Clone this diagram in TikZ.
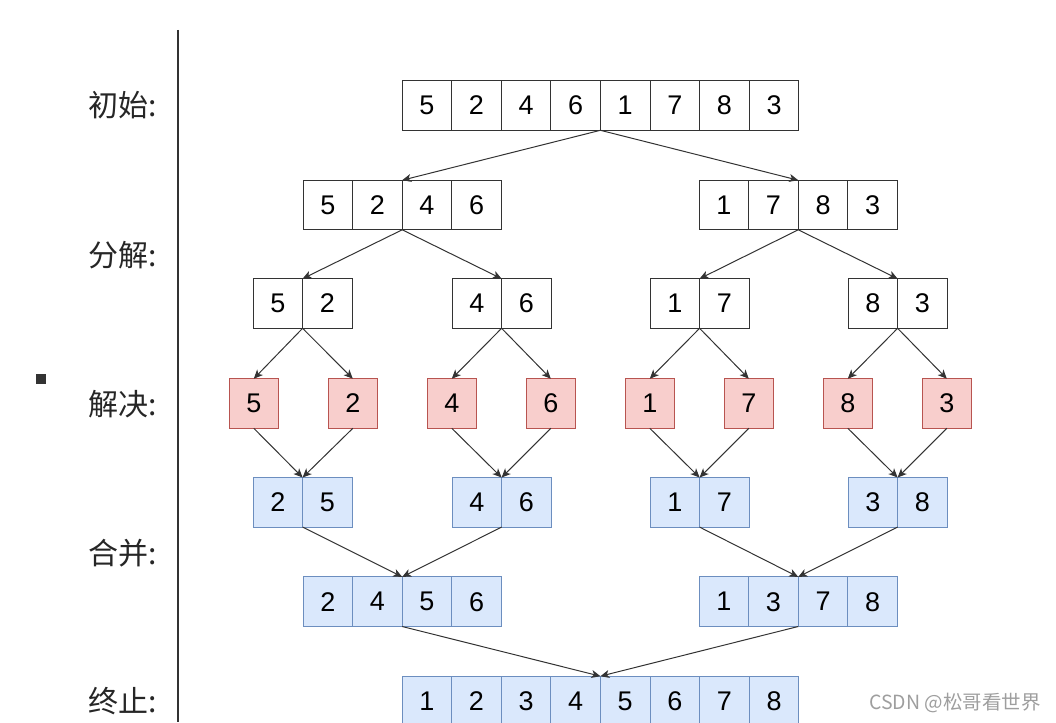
\documentclass[tikz,border=0pt]{standalone}
\usepackage{fontspec}
\setmainfont{Liberation Sans}
\newfontfamily\cjk{Noto Sans CJK SC}
\usetikzlibrary{arrows.meta}
\definecolor{lineC}{HTML}{333333}
\definecolor{redF}{HTML}{F8CECC}
\definecolor{redS}{HTML}{B85450}
\definecolor{blueF}{HTML}{DAE8FC}
\definecolor{blueS}{HTML}{6C8EBF}
\tikzset{
  cell/.style={draw=lineC, line width=1pt, minimum width=49.6pt, minimum height=49.6pt,
    inner sep=0pt, outer sep=0pt, font=\fontsize{27}{30}\selectfont, text=black},
  redcell/.style={cell, draw=redS, fill=redF},
  bluecell/.style={cell, draw=blueS, fill=blueF},
  arr/.style={draw=lineC, line width=1pt, -{Stealth[length=9pt,width=8pt,inset=2.5pt]}},
  lbl/.style={anchor=east, inner sep=0pt, font=\cjk\fontsize{30}{32}\selectfont, text=black!85},
}
\begin{document}
\begin{tikzpicture}[x=1pt,y=-1pt]
\useasboundingbox (0,0) rectangle (1056,722);
\clip (0,0) rectangle (1056,722);
% left axis line
\coordinate (axtop) at (178,30);
\coordinate (axbot) at (178,722);
\draw[line width=1.2pt, draw=lineC] (axtop) -- (axbot);
% small square
\node[fill=black!80, minimum size=10pt, inner sep=0pt] (sq) at (40.5,378.5) {};
% row labels
\node[lbl] (L1) at (157,105) {初始:};
\node[lbl] (L2) at (157,255) {分解:};
\node[lbl] (L3) at (157,404) {解决:};
\node[lbl] (L4) at (157,553) {合并:};
\node[lbl] (L5) at (157,701) {终止:};
% row 1
\foreach \v [count=\i] in {5,2,4,6,1,7,8,3}
  \node[cell] (a\i) at ({402+24.8+49.6*(\i-1)},105.5) {\v};
% row 2
\foreach \v [count=\i] in {5,2,4,6}
  \node[cell] (b\i) at ({303+24.8+49.6*(\i-1)},205) {\v};
\foreach \v [count=\i from 5] in {1,7,8,3}
  \node[cell] (b\i) at ({699+24.8+49.6*(\i-5)},205) {\v};
% row 3
\foreach \s/\u/\w [count=\k] in {253/5/2,452/4/6,650/1/7,848/8/3}{
  \pgfmathtruncatemacro{\ia}{2*\k-1}
  \pgfmathtruncatemacro{\ib}{2*\k}
  \node[cell] (c\ia) at ({\s+24.8},303.5) {\u};
  \node[cell] (c\ib) at ({\s+24.8+49.6},303.5) {\w};
}
% row 4 red
\foreach \s/\v [count=\i] in {229/5,328/2,427/4,526/6,625/1,724/7,823/8,922/3}
  \node[redcell] (d\i) at ({\s+24.8},403.5) {\v};
% row 5 blue
\foreach \s/\u/\w [count=\k] in {253/2/5,452/4/6,650/1/7,848/3/8}{
  \pgfmathtruncatemacro{\ia}{2*\k-1}
  \pgfmathtruncatemacro{\ib}{2*\k}
  \node[bluecell] (e\ia) at ({\s+24.8},502.3) {\u};
  \node[bluecell] (e\ib) at ({\s+24.8+49.6},502.3) {\w};
}
% row 6
\foreach \v [count=\i] in {2,4,5,6}
  \node[bluecell] (f\i) at ({303+24.8+49.6*(\i-1)},601.7) {\v};
\foreach \v [count=\i from 5] in {1,3,7,8}
  \node[bluecell] (f\i) at ({699+24.8+49.6*(\i-5)},601.7) {\v};
% row 7
\foreach \v [count=\i] in {1,2,3,4,5,6,7,8}
  \node[bluecell] (g\i) at ({402+24.8+49.6*(\i-1)},701) {\v};
% arrows: split
\draw[arr] (a4.south east) -- (b2.north east);
\draw[arr] (a4.south east) -- (b6.north east);
\draw[arr] (b2.south east) -- (c1.north east);
\draw[arr] (b2.south east) -- (c3.north east);
\draw[arr] (b6.south east) -- (c5.north east);
\draw[arr] (b6.south east) -- (c7.north east);
\foreach \k in {1,3,5,7}{
  \pgfmathtruncatemacro{\kn}{\k+1}
  \draw[arr] (c\k.south east) -- (d\k.north);
  \draw[arr] (c\k.south east) -- (d\kn.north);
  \draw[arr] (d\k.south) -- (e\k.north east);
  \draw[arr] (d\kn.south) -- (e\k.north east);
}
% arrows: merge
\draw[arr] (e1.south east) -- (f2.north east);
\draw[arr] (e3.south east) -- (f2.north east);
\draw[arr] (e5.south east) -- (f6.north east);
\draw[arr] (e7.south east) -- (f6.north east);
\draw[arr] (f2.south east) -- (g4.north east);
\draw[arr] (f6.south east) -- (g4.north east);
% watermark
\node[anchor=west, inner sep=0pt, font=\cjk\fontsize{19.5}{21}\selectfont, text=black!38] (wm) at (869,703) {CSDN @松哥看世界};
\end{tikzpicture}
\end{document}
